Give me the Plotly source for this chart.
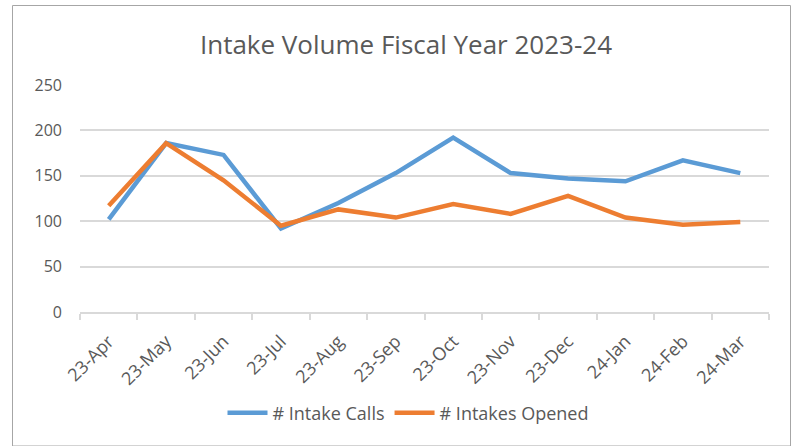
import plotly.graph_objects as go

# Monthly intake figures, fiscal year 2023-24
months = ["23-Apr", "23-May", "23-Jun", "23-Jul", "23-Aug", "23-Sep",
          "23-Oct", "23-Nov", "23-Dec", "24-Jan", "24-Feb", "24-Mar"]
intake_calls = [102, 186, 173, 92, 120, 153, 192, 153, 147, 144, 167, 153]
intakes_opened = [117, 186, 145, 95, 113, 104, 119, 108, 128, 104, 96, 99]

y_ticks = [0, 50, 100, 150, 200, 250]

BLUE = "#5B9BD5"
ORANGE = "#ED7D31"
TEXT = "#595959"
GRID = "#D9D9D9"
FONT = "Open Sans"

fig = go.Figure()
fig.add_trace(go.Scatter(x=months, y=intake_calls, mode="lines",
                         name="# Intake Calls",
                         line=dict(color=BLUE, width=4.5)))
fig.add_trace(go.Scatter(x=months, y=intakes_opened, mode="lines",
                         name="# Intakes Opened",
                         line=dict(color=ORANGE, width=4.5)))

# Plot area: x 80..769 px, y 85..312 px
L, R, T, B = 80, 30, 85, 134
W, H = 799, 446
pw, ph = W - L - R, H - T - B

def px_x(x):
    return (x - L) / pw

def px_y(y):
    return (H - B - y) / ph

fig.update_layout(
    width=W, height=H,
    margin=dict(l=L, r=R, t=T, b=B),
    paper_bgcolor="white", plot_bgcolor="white",
    font=dict(family=FONT, color=TEXT),
    title=dict(text="Intake Volume Fiscal Year 2023-24",
               x=px_x(406), xref="paper", xanchor="center",
               y=1 - 45 / H, yanchor="middle",
               font=dict(size=26, color=TEXT, family=FONT)),
    showlegend=True,
    legend=dict(orientation="h", x=px_x(408), xanchor="center",
                y=px_y(413), yanchor="middle",
                font=dict(size=18, color=TEXT), itemwidth=40,
                bgcolor="rgba(0,0,0,0)"),
    xaxis=dict(type="category", tickson="boundaries", ticks="outside",
               ticklen=6, tickcolor=GRID, tickwidth=1.5,
               showline=True, linecolor=GRID, linewidth=1.5,
               showgrid=False, tickangle=-45,
               tickfont=dict(size=18, color=TEXT),
               ticklabelstandoff=10,
               range=[-0.5, len(months) - 0.5], fixedrange=True),
    yaxis=dict(range=[0, 250], tickvals=y_ticks,
               showgrid=True, gridcolor=GRID, gridwidth=1.5,
               zeroline=False, showline=False, ticks="",
               tickfont=dict(size=16, color=TEXT), ticklabelstandoff=17,
               fixedrange=True),
)

# Chart frame
fig.add_shape(type="rect", xref="paper", yref="paper",
              x0=px_x(12.5), x1=px_x(790.5), y0=px_y(446), y1=px_y(5.5),
              line=dict(color="#A6A6A6", width=1), layer="below")

fig.write_html("out.html")
